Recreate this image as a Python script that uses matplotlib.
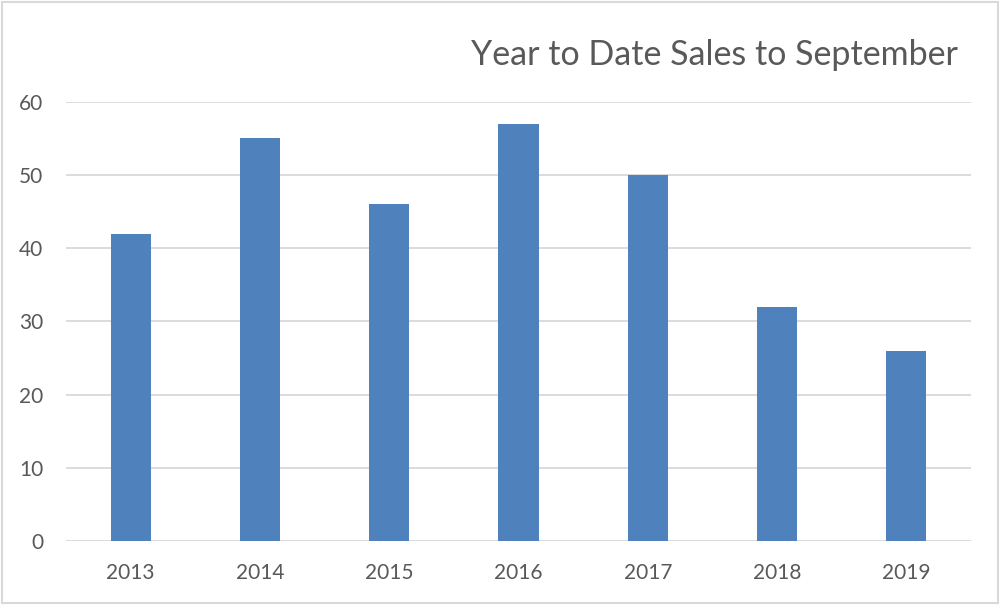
import matplotlib.pyplot as plt
from matplotlib.patches import Rectangle

years = ['2013', '2014', '2015', '2016', '2017', '2018', '2019']
sales = [42, 55, 46, 57, 50, 32, 26]
y_ticks = [0, 10, 20, 30, 40, 50, 60]

plt.rcParams['font.family'] = ['Lato', 'DejaVu Sans']

fig = plt.figure(figsize=(10, 6.05), dpi=100)
ax = fig.add_axes([0.066, 0.1058, 0.905, 0.726])

x = range(len(years))
ax.bar(x, sales, width=0.31, color='#4f81bd', zorder=3)

ax.set_xlim(-0.5, len(years) - 0.5)
ax.set_ylim(0, 60)
ax.set_yticks(y_ticks)
ax.set_xticks(list(x))
ax.set_xticklabels(years)
ax.grid(axis='y', color='#d9d9d9', linewidth=1.3, zorder=0)
for s in ax.spines.values():
    s.set_visible(False)
ax.tick_params(axis='both', length=0, labelsize=15, labelcolor='#595959')
ax.tick_params(axis='y', pad=16.5)
ax.tick_params(axis='x', pad=16)

fig.text(0.958, 0.909, 'Year to Date Sales to September', ha='right', va='center',
         fontsize=24.5, color='#595959')

# chart border
fig.patches.append(Rectangle((0.002, 0.004), 0.996, 0.993, transform=fig.transFigure,
                             fill=False, edgecolor='#d9d9d9', linewidth=1.5))

fig.savefig('out.png', dpi=100)
